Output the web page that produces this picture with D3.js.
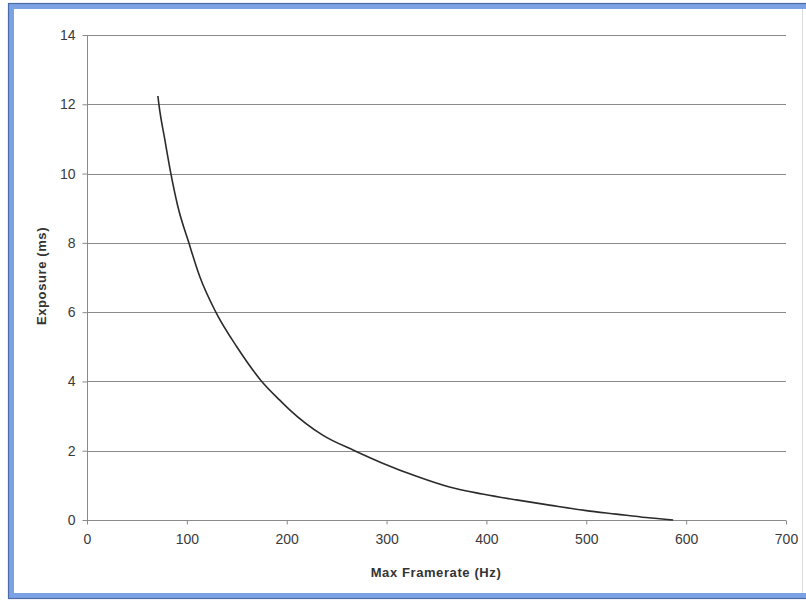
<!DOCTYPE html>
<html>
<head>
<meta charset="utf-8">
<script src="https://cdn.jsdelivr.net/npm/d3@7"></script>
<style>
  html, body { margin: 0; padding: 0; background: #ffffff; }
  svg { display: block; }
  text { font-family: "Liberation Sans", Arial, sans-serif; }
</style>
</head>
<body>
<svg id="chart" width="806" height="605"></svg>
<script>
// Data
const framerate = [71, 72, 78, 84, 91, 102, 113, 129, 150, 175, 193, 203, 236, 268, 296, 330, 363, 396, 430, 463, 500, 530, 560, 587];
const exposure  = [12.24, 12.0, 10.97, 10.0, 9.05, 8.0, 7.02, 6.0, 5.0, 4.0, 3.46, 3.18, 2.45, 2.0, 1.64, 1.26, 0.95, 0.75, 0.58, 0.43, 0.27, 0.17, 0.07, 0.0];
const xTicks = [0, 100, 200, 300, 400, 500, 600, 700];
const yTicks = [0, 2, 4, 6, 8, 10, 12, 14];
const xTitle = "Max Framerate (Hz)";
const yTitle = "Exposure (ms)";

const svg = d3.select("#chart");

// Frame
svg.append("rect").attr("x", 0).attr("y", 0).attr("width", 806).attr("height", 605).attr("fill", "#ffffff");
svg.append("rect")
  .attr("x", 11.5).attr("y", 6.5).attr("width", 810).attr("height", 589)
  .attr("fill", "#ffffff").attr("stroke", "#7aa2e4").attr("stroke-width", 5);
svg.append("rect")
  .attr("x", 8.5).attr("y", 3.5).attr("width", 816).attr("height", 595)
  .attr("fill", "none").attr("stroke", "#4d6ca6").attr("stroke-width", 1.2);
svg.append("line").attr("x1", 802.5).attr("x2", 802.5).attr("y1", 9).attr("y2", 593)
  .attr("stroke", "#dcdcdc").attr("stroke-width", 1);

const x = d3.scaleLinear().domain([0, 700]).range([87, 786]);
const y = d3.scaleLinear().domain([0, 14]).range([520, 35]);

// Gridlines
svg.append("g").selectAll("line")
  .data(yTicks.filter(d => d > 0))
  .join("line")
  .attr("x1", x(0)).attr("x2", x(700))
  .attr("y1", d => Math.round(y(d)) + 0.5).attr("y2", d => Math.round(y(d)) + 0.5)
  .attr("stroke", "#8a8a8a").attr("stroke-width", 1);

// Axes
const xAxis = d3.axisBottom(x).tickValues(xTicks).tickSize(4).tickPadding(10).tickFormat(d3.format("d"));
const yAxis = d3.axisLeft(y).tickValues(yTicks).tickSize(5).tickPadding(7).tickFormat(d3.format("d"));

const gx = svg.append("g").attr("transform", `translate(0,${Math.round(y(0)) + 0.5})`).call(xAxis);
const gy = svg.append("g").attr("transform", `translate(${x(0) + 0.5},0)`).call(yAxis);

[gx, gy].forEach(g => {
  g.select(".domain").attr("stroke", "#8a8a8a").attr("stroke-width", 1);
  g.selectAll(".tick line").attr("stroke", "#8a8a8a");
  g.selectAll(".tick text")
    .attr("fill", "#3a3a3a")
    .style("font-size", "14px");
});
gx.select(".domain").attr("d", `M${x(0)},0H${x(700)}`);
gy.select(".domain").attr("d", `M0,${y(0)}V${y(14)}`);

// Curve
const pts = framerate.map((f, i) => [f, exposure[i]]);
svg.append("path")
  .datum(pts)
  .attr("fill", "none")
  .attr("stroke", "#2b2b2b")
  .attr("stroke-width", 1.6)
  .attr("d", d3.line().x(d => x(d[0])).y(d => y(d[1])).curve(d3.curveMonotoneX));

// Axis titles
svg.append("text")
  .attr("x", 436).attr("y", 577)
  .attr("text-anchor", "middle")
  .attr("fill", "#333")
  .style("font-size", "13px").style("font-weight", "bold").style("letter-spacing", "0.6px")
  .text(xTitle);

svg.append("text")
  .attr("transform", "translate(46,276) rotate(-90)")
  .attr("text-anchor", "middle")
  .attr("fill", "#333")
  .style("font-size", "13px").style("font-weight", "bold").style("letter-spacing", "0.6px")
  .text(yTitle);
</script>
</body>
</html>
